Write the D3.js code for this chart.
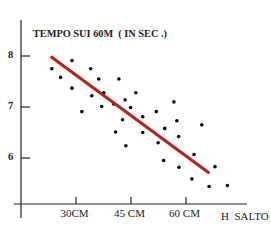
<!DOCTYPE html>
<html>
<head>
<meta charset="utf-8">
<script src="https://cdn.jsdelivr.net/npm/d3@7"></script>
<style>
  body { margin: 0; background: #fff; }
  text { font-family: "Liberation Serif", "DejaVu Serif", serif; fill: #222; white-space: pre; }
</style>
</head>
<body>
<svg id="chart" width="271" height="240"></svg>
<script>
// jump height (cm) vs 60m time (sec)
var salto = [23.4, 28.9, 25.8, 34.0, 36.2, 41.7, 28.9, 37.6, 34.3, 46.3, 43.4, 40.3,
             37.0, 44.9, 31.6, 42.7, 56.7, 51.9, 48.2, 57.5, 64.3, 54.2, 40.8, 48.2,
             43.6, 52.4, 53.9, 58.0, 62.2, 58.1, 67.9, 61.6, 66.3, 71.3];
var tempo = [7.75, 7.91, 7.58, 7.75, 7.55, 7.55, 7.37, 7.28, 7.22, 7.28, 7.14, 7.06,
             7.01, 6.99, 6.91, 6.75, 7.10, 6.91, 6.81, 6.73, 6.65, 6.58, 6.51, 6.50,
             6.24, 6.30, 5.95, 6.42, 6.07, 5.82, 5.83, 5.59, 5.44, 5.46];
var trendX = [23.1, 66.4];
var trendY = [7.99, 5.70];
var yTicks = [6, 7, 8];
var xTicks = [30, 45, 60];
var xTickLabels = ["30CM", "45 CM", "60 CM"];
var titolo = "TEMPO SUI 60M  ( IN SEC .)";
var xTitolo = "H  SALTO";

var chart = {};
chart.svg = d3.select("#chart");

chart.x = d3.scaleLinear().domain([30, 60]).range([76, 186]);
chart.y = d3.scaleLinear().domain([6, 8]).range([158, 56]);

// axes lines
chart.svg.append("line")
    .attr("x1", 21).attr("x2", 21)
    .attr("y1", 20).attr("y2", 218)
    .style("stroke", "#222").style("stroke-width", 1.2);
chart.svg.append("line")
    .attr("x1", 14).attr("x2", 247)
    .attr("y1", 204).attr("y2", 204)
    .style("stroke", "#222").style("stroke-width", 1.2);

// y ticks
chart.svg.selectAll(".ytick").data(yTicks).enter().append("line")
    .attr("x1", 21).attr("x2", 30)
    .attr("y1", function(d){ return chart.y(d); })
    .attr("y2", function(d){ return chart.y(d); })
    .style("stroke", "#222").style("stroke-width", 1.2);
chart.svg.selectAll(".ylab").data(yTicks).enter().append("text")
    .attr("x", 10.5)
    .attr("y", function(d){ return chart.y(d) + 1.5; })
    .attr("text-anchor", "middle")
    .attr("font-size", 10.5)
    .attr("font-weight", "bold")
    .text(function(d){ return d; });

// x ticks
chart.svg.selectAll(".xtick").data(xTicks).enter().append("line")
    .attr("x1", function(d){ return chart.x(d); })
    .attr("x2", function(d){ return chart.x(d); })
    .attr("y1", 197).attr("y2", 204)
    .style("stroke", "#222").style("stroke-width", 1.2);
chart.svg.selectAll(".xlab").data(xTicks).enter().append("text")
    .attr("x", function(d){ return chart.x(d) - 1.5; })
    .attr("y", 216.5)
    .attr("text-anchor", "middle")
    .attr("font-size", 11)
    .text(function(d, i){ return xTickLabels[i]; });

chart.svg.append("text")
    .attr("x", 221).attr("y", 219.5)
    .attr("font-size", 11)
    .text(xTitolo);

chart.svg.append("text")
    .attr("x", 33).attr("y", 36.5)
    .attr("font-size", 10)
    .attr("font-weight", "bold")
    .attr("textLength", 134)
    .attr("lengthAdjust", "spacingAndGlyphs")
    .text(titolo);

// points
chart.svg.selectAll("circle").data(salto).enter().append("circle")
    .attr("cx", function(d){ return chart.x(d); })
    .attr("cy", function(d, i){ return chart.y(tempo[i]); })
    .attr("r", 1.8)
    .style("fill", "#000");

// trend line
chart.svg.append("line")
    .attr("x1", chart.x(trendX[0])).attr("y1", chart.y(trendY[0]))
    .attr("x2", chart.x(trendX[1])).attr("y2", chart.y(trendY[1]))
    .style("stroke", "#b8201c")
    .style("stroke-width", 3);
</script>
</body>
</html>
